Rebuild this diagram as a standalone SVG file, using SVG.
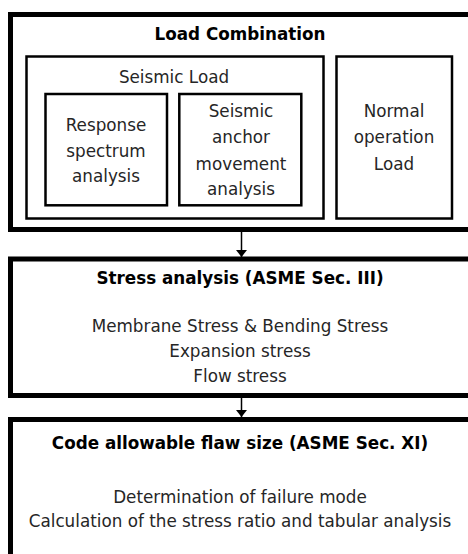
<svg xmlns="http://www.w3.org/2000/svg" width="468" height="554" viewBox="0 0 468 554">
<style>
.outer{fill:none;stroke:#000;stroke-width:5}
.inner{fill:none;stroke:#000;stroke-width:2.5}
.t{font-family:"DejaVu Sans","Liberation Sans",sans-serif;font-size:16.8px;fill:#262626;text-anchor:middle}
.b{font-family:"DejaVu Sans","Liberation Sans",sans-serif;font-size:16.8px;font-weight:bold;fill:#000;text-anchor:middle}
.conn{stroke:#000;stroke-width:1.5;fill:none}
</style>
<defs>
<marker id="arr" viewBox="0 0 7 11" refX="7" refY="5.5" markerWidth="7" markerHeight="11" markerUnits="userSpaceOnUse" orient="auto">
<path d="M0,0 L7,5.5 L0,11 Z" fill="#000"/>
</marker>
</defs>
<rect width="468" height="554" fill="#fff"/>
<g id="load-combination">
<rect class="outer" x="10.5" y="14.5" width="470" height="215"/>
<text class="b" x="240" y="40">Load Combination</text>
</g>
<g id="seismic-load">
<rect class="inner" x="26.5" y="56.5" width="297" height="162"/>
<text class="t" x="174" y="82.5">Seismic Load</text>
</g>
<g id="response-spectrum">
<rect class="inner" x="45.5" y="94" width="121.5" height="111.3"/>
<text class="t" x="106" y="131">Response</text>
<text class="t" x="106" y="156.5">spectrum</text>
<text class="t" x="106" y="181.5">analysis</text>
</g>
<g id="seismic-anchor">
<rect class="inner" x="179.3" y="94" width="122" height="111.3"/>
<text class="t" x="241" y="117.3">Seismic</text>
<text class="t" x="241" y="143.3">anchor</text>
<text class="t" x="241" y="169.5">movement</text>
<text class="t" x="241" y="195">analysis</text>
</g>
<g id="normal-operation">
<rect class="inner" x="336.5" y="56.5" width="115.5" height="162"/>
<text class="t" x="394" y="117.3">Normal</text>
<text class="t" x="394" y="143.3">operation</text>
<text class="t" x="394" y="169.5">Load</text>
</g>
<g id="stress-analysis">
<rect class="outer" x="10.5" y="259" width="470" height="136.5"/>
<text class="b" x="240" y="284.3">Stress analysis (ASME Sec. III)</text>
<text class="t" x="240" y="331.7">Membrane Stress &amp; Bending Stress</text>
<text class="t" x="240" y="356.7">Expansion stress</text>
<text class="t" x="240" y="381.7">Flow stress</text>
</g>
<g id="code-allowable">
<rect class="outer" x="10.5" y="419.5" width="470" height="150"/>
<text class="b" x="240" y="449.3">Code allowable flaw size (ASME Sec. XI)</text>
<text class="t" x="240" y="502.7">Determination of failure mode</text>
<text class="t" x="240" y="527.3">Calculation of the stress ratio and tabular analysis</text>
</g>
<g id="connectors">
<line class="conn" x1="241.5" y1="232" x2="241.5" y2="257" marker-end="url(#arr)"/>
<line class="conn" x1="241.5" y1="398" x2="241.5" y2="417" marker-end="url(#arr)"/>
</g>
</svg>
